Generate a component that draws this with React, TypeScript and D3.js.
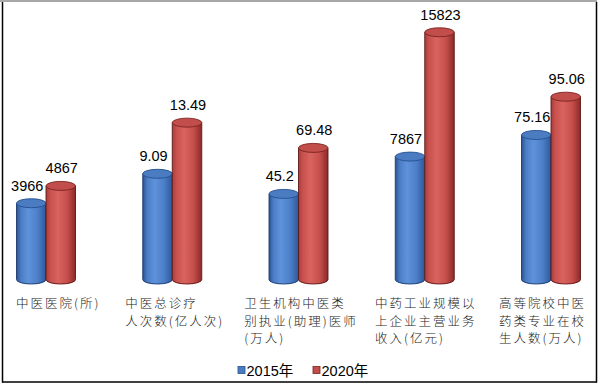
import React from 'react';
import * as d3 from 'd3';

const categoryLines = [
  ['中医医院(所)'],
  ['中医总诊疗', '人次数(亿人次)'],
  ['卫生机构中医类', '别执业(助理)医师', '(万人)'],
  ['中药工业规模以', '上企业主营业务', '收入(亿元)'],
  ['高等院校中医', '药类专业在校', '生人数(万人)'],
];
const values2015 = [3966, 9.09, 45.2, 7867, 75.16];
const values2020 = [4867, 13.49, 69.48, 15823, 95.06];
// each category is drawn against its own value axis
const axisMax = [13000, 21.5, 132, 16000, 130];
const seriesNames = ['2015年', '2020年'];

const W = 600;
const H = 385;
const baseY = 279.5;
const topY = 29.5;
const barW = 29.5;
const ry = 4.5;
const labelFs = 12.5;
const labelLs = 2;

const x = d3.scalePoint<number>().domain(d3.range(categoryLines.length)).range([46, 551]);

const estWidth = (s: string) =>
  Array.from(s).reduce((w, ch) => w + (/[\u4e00-\u9fff]/.test(ch) ? labelFs : labelFs * 0.2) + labelLs, 0) - labelLs;

const cylinderPath = (x0: number, yTop: number) =>
  `M${x0},${yTop} L${x0},${baseY} A${barW / 2},${ry} 0 0 0 ${x0 + barW},${baseY} L${x0 + barW},${yTop} Z`;

const styles = [
  { grad: 'gBlue', stroke: '#1d3a6c', top: '#4b7cc2', topStroke: '#24508f', rim: '#2577e0' },
  { grad: 'gRed', stroke: '#5e1716', top: '#c14e4b', topStroke: '#7a2220', rim: '#e02a2a' },
];

export default function App() {
  const series = [values2015, values2020];
  return (
    <svg width={W} height={H} style={{ position: 'absolute', left: 0, top: 0, background: '#fff' }}
      fontFamily="'Liberation Sans', Arial, 'Noto Sans CJK SC', sans-serif">
      <defs>
        <linearGradient id="gBlue" x1="0" x2="1" y1="0" y2="0">
          <stop offset="0%" stopColor="#2b5293" />
          <stop offset="15%" stopColor="#4b7dc5" />
          <stop offset="40%" stopColor="#5e92da" />
          <stop offset="72%" stopColor="#4c7fc7" />
          <stop offset="100%" stopColor="#2e589c" />
        </linearGradient>
        <linearGradient id="gRed" x1="0" x2="1" y1="0" y2="0">
          <stop offset="0%" stopColor="#a63f3c" />
          <stop offset="15%" stopColor="#c9514e" />
          <stop offset="40%" stopColor="#d9635f" />
          <stop offset="72%" stopColor="#c64f4c" />
          <stop offset="100%" stopColor="#8a2a28" />
        </linearGradient>
      </defs>

      {/* frame */}
      <rect x={0} y={0} width={597} height={2} fill="#a8a8a8" />
      <line x1={2.5} x2={2.5} y1={2} y2={382.5} stroke="#000" strokeWidth={1.5} />
      <line x1={596.5} x2={596.5} y1={2} y2={382.5} stroke="#000" strokeWidth={1.5} />
      <line x1={2} x2={597} y1={382} y2={382} stroke="#000" strokeWidth={1.5} />

      {categoryLines.map((_, i) => {
        const cx = x(i)!;
        const y = d3.scaleLinear().domain([0, axisMax[i]]).range([baseY, topY]);
        return (
          <g key={i}>
            {series.map((vals, s) => {
              const x0 = s === 0 ? cx - barW : cx;
              const yTop = y(vals[i]);
              const st = styles[s];
              return (
                <g key={s}>
                  <path d={`M${x0 + 1},${baseY + 1} A${barW / 2},${ry} 0 0 0 ${x0 + barW - 1},${baseY + 1}`}
                    fill="none" stroke={st.rim} strokeWidth={1.5} />
                  <path d={cylinderPath(x0, yTop)} fill={`url(#${st.grad})`} stroke={st.stroke} strokeWidth={0.9} />
                  <ellipse cx={x0 + barW / 2} cy={yTop} rx={barW / 2} ry={ry} fill={st.top} stroke={st.topStroke} strokeWidth={0.9} />
                  <text x={x0 + barW / 2 + (s === 0 ? -4 : 1)} y={yTop - ry - 8} textAnchor="middle"
                    fontSize={14.5} fill="#000">{String(vals[i])}</text>
                </g>
              );
            })}
          </g>
        );
      })}

      {/* category labels */}
      {categoryLines.map((lines, i) => {
        const w = Math.max(...lines.map(estWidth));
        const left = Math.min(Math.max(x(i)! - w / 2, 16), 584 - w);
        return (
          <text key={i} fontFamily="'Noto Sans CJK SC', sans-serif" fontSize={labelFs} fontWeight={300}
            letterSpacing={labelLs} fill="#1a1a1a">
            {lines.map((l, j) => (
              <tspan key={j} x={left} y={308 + j * 17.5}>{l}</tspan>
            ))}
          </text>
        );
      })}

      {/* legend */}
      {seriesNames.map((name, s) => {
        const lx = 238 + s * 75;
        return (
          <g key={name}>
            <rect x={lx} y={366.5} width={7} height={7} fill={styles[s].top} stroke={styles[s].topStroke} strokeWidth={0.8} />
            <text x={lx + 8.5} y={375.5} fontSize={14.5} fill="#000">{name}</text>
          </g>
        );
      })}
    </svg>
  );
}
